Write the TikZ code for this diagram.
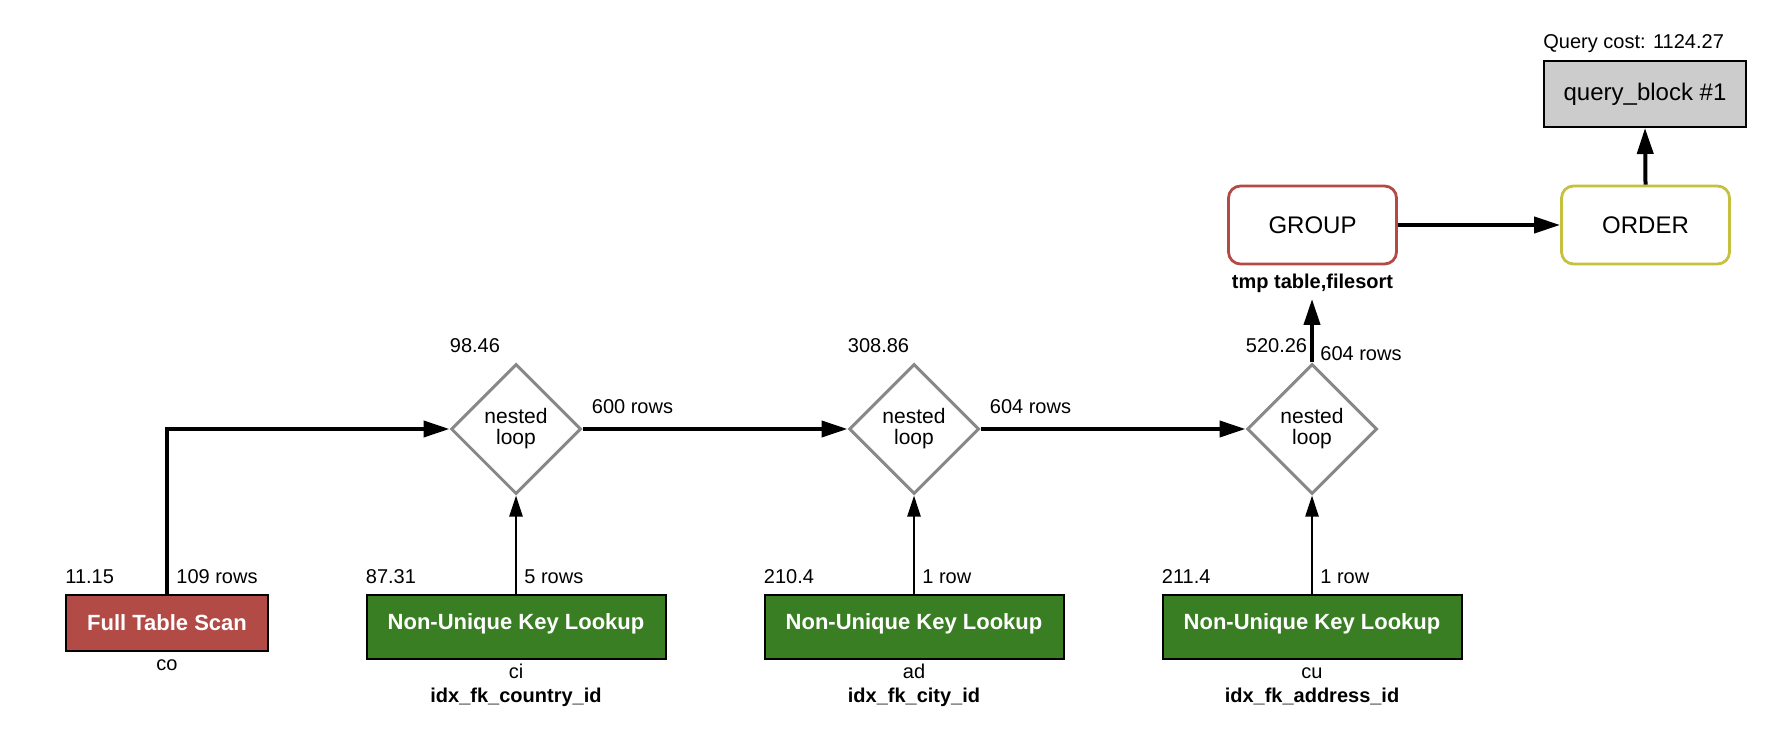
\documentclass[tikz,border=0pt]{standalone}
\usepackage{fontspec}
\setmainfont{Liberation Sans}
\usetikzlibrary{shapes.geometric,arrows.meta}
\definecolor{scanred}{HTML}{B24A46}
\definecolor{lookupgreen}{HTML}{3A7E23}
\definecolor{orderyellow}{HTML}{C5C13E}
\definecolor{loopgray}{HTML}{888888}
\definecolor{blockgray}{HTML}{CCCCCC}
\begin{document}
\begin{tikzpicture}[x=0.5pt,y=-0.5pt,
  lbl/.style={inner sep=0pt,font=\fontsize{10}{12}\selectfont},
  boldlbl/.style={lbl,font=\fontsize{10}{12}\selectfont\bfseries},
  access/.style={draw=black,line width=1pt,text=white,inner sep=0pt,
    font=\fontsize{11}{13}\selectfont\bfseries},
  fullscan/.style={access,fill=scanred,minimum width=101pt,minimum height=28pt},
  lookup/.style={access,fill=lookupgreen,minimum width=149.5pt,minimum height=32pt,
    text height=6pt,text depth=4pt},
  nestloop/.style={diamond,draw=loopgray,line width=1.5pt,inner sep=0pt,
    minimum width=65pt,minimum height=65pt,align=center,
    font=\fontsize{10.5}{10.5}\selectfont},
  opbox/.style={draw,rounded corners=6pt,line width=1.4pt,minimum width=84pt,
    minimum height=39pt,font=\fontsize{12}{14}\selectfont},
  flow/.style={line width=2pt,-{Triangle[length=13pt,width=8pt]}},
  feed/.style={line width=1.2pt,-{Triangle[length=10.5pt,width=6.5pt]}}]
  \useasboundingbox (0,0) rectangle (1792,748);

  \node[fullscan] (fts) at (167,623) {Full Table Scan};
  \node[lookup] (nukl1) at (516,627) {Non-Unique Key Lookup};
  \node[lookup] (nukl2) at (914,627) {Non-Unique Key Lookup};
  \node[lookup] (nukl3) at (1312,627) {Non-Unique Key Lookup};
  \node[nestloop] (d1) at (516,429) {nested\\loop};
  \node[nestloop] (d2) at (914,429) {nested\\loop};
  \node[nestloop] (d3) at (1312,429) {nested\\loop};
  \node[opbox,draw=scanred] (group) at (1312.5,225) {GROUP};
  \node[opbox,draw=orderyellow] (order) at (1645.5,225) {ORDER};
  \node[draw,fill=blockgray,line width=1pt,minimum width=101pt,minimum height=33pt,
    font=\fontsize{12}{14}\selectfont] (qb) at (1645,94) {query\_block \#1};

  \node[lbl,anchor=base west] (qcost) at ([yshift=5.5pt]qb.north west) {Query cost: 1124.27};
  \node[boldlbl,anchor=base,inner sep=3pt] (tmp) at ([yshift=-11.5pt]group.south) {tmp table,filesort};

  \node[lbl,anchor=base west] (ftscost) at ([yshift=5.5pt]fts.north west) {11.15};
  \node[lbl,anchor=base west] (ftsrows) at ([xshift=4.5pt,yshift=5.5pt]fts.north) {109 rows};
  \node[lbl,anchor=base] (co) at ([yshift=-9pt]fts.south) {co};

  \node[lbl,anchor=base west] (cost1) at ([yshift=5.5pt]nukl1.north west) {87.31};
  \node[lbl,anchor=base west] (rows1) at ([xshift=4pt,yshift=5.5pt]nukl1.north) {5 rows};
  \node[lbl,anchor=base] (ci) at ([yshift=-9pt]nukl1.south) {ci};
  \node[boldlbl,anchor=base] (idx1) at ([yshift=-12pt]ci.base) {idx\_fk\_country\_id};

  \node[lbl,anchor=base west] (cost2) at ([yshift=5.5pt]nukl2.north west) {210.4};
  \node[lbl,anchor=base west] (rows2) at ([xshift=4pt,yshift=5.5pt]nukl2.north) {1 row};
  \node[lbl,anchor=base] (ad) at ([yshift=-9pt]nukl2.south) {ad};
  \node[boldlbl,anchor=base] (idx2) at ([yshift=-12pt]ad.base) {idx\_fk\_city\_id};

  \node[lbl,anchor=base west] (cost3) at ([yshift=5.5pt]nukl3.north west) {211.4};
  \node[lbl,anchor=base west] (rows3) at ([xshift=4pt,yshift=5.5pt]nukl3.north) {1 row};
  \node[lbl,anchor=base] (cu) at ([yshift=-9pt]nukl3.south) {cu};
  \node[boldlbl,anchor=base] (idx3) at ([yshift=-12pt]cu.base) {idx\_fk\_address\_id};

  \node[lbl,anchor=base west] (loopcost1) at ([yshift=38pt]d1.west) {98.46};
  \node[lbl,anchor=base west] (looprows1) at ([xshift=4.5pt,yshift=8pt]d1.east) {600 rows};
  \node[lbl,anchor=base west] (loopcost2) at ([yshift=38pt]d2.west) {308.86};
  \node[lbl,anchor=base west] (looprows2) at ([xshift=4.5pt,yshift=8pt]d2.east) {604 rows};
  \node[lbl,anchor=base west] (loopcost3) at ([yshift=38pt]d3.west) {520.26};
  \node[lbl,anchor=base west] (looprows3) at ([xshift=4pt,yshift=1pt]d3.north) {604 rows};

  \draw[flow] (fts.north) |- (d1.west);
  \draw[flow] (d1.east) -- (d2.west);
  \draw[flow] (d2.east) -- (d3.west);
  \draw[flow] (d3.north) -- (d3.north |- tmp.south);
  \draw[flow] (group.east) -- (order.west);
  \draw[flow] (order.north) -- (qb.south);
  \draw[feed] (nukl1.north) -- (d1.south);
  \draw[feed] (nukl2.north) -- (d2.south);
  \draw[feed] (nukl3.north) -- (d3.south);
\end{tikzpicture}
\end{document}
